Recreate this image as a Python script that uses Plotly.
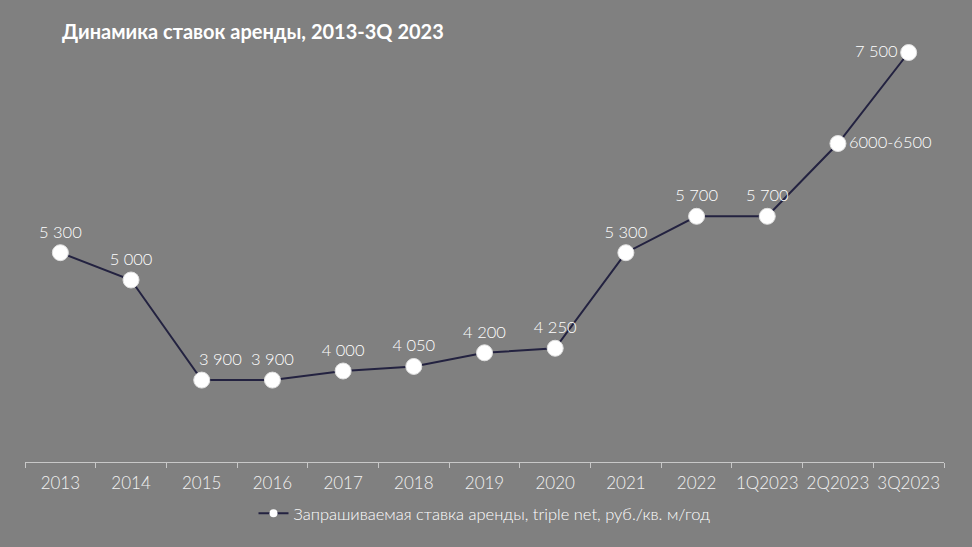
import plotly.graph_objects as go

# Data
periods = ["2013", "2014", "2015", "2016", "2017", "2018", "2019", "2020",
           "2021", "2022", "1Q2023", "2Q2023", "3Q2023"]
rates = [5300, 5000, 3900, 3900, 4000, 4050, 4200, 4250,
         5300, 5700, 5700, 6500, 7500]
labels = ["5 300", "5 000", "3 900", "3 900", "4 000", "4 050", "4 200", "4 250",
          "5 300", "5 700", "5 700", "6000-6500", "7 500"]
series_name = "Запрашиваемая ставка аренды, triple net, руб./кв. м/год"
title_text = "Динамика ставок аренды, 2013-3Q 2023"

BG = "#808080"
LINE = "#232240"
FONT = "Lato, 'Open Sans', sans-serif"
LABEL_FONT = dict(family=FONT, size=16.5, color="white", weight=300)

positions = ["top center"] * len(periods)
positions[11] = "middle right"
positions[12] = "middle left"

# 2015 label sits a bit to the right of its point, so it goes in as an annotation
shifted = 2
point_text = [t if i != shifted else "" for i, t in enumerate(labels)]

fig = go.Figure()
fig.add_trace(go.Scatter(
    x=periods, y=rates,
    mode="lines+markers+text",
    name=series_name,
    showlegend=False,
    line=dict(color=LINE, width=2),
    marker=dict(size=16, color="white", line=dict(color="#e0e0e0", width=1)),
    text=point_text,
    textposition=positions,
    textfont=LABEL_FONT,
    cliponaxis=False,
    hoverinfo="skip",
))
# legend-only entry with a smaller marker, like the original legend key
fig.add_trace(go.Scatter(
    x=[None], y=[None],
    mode="lines+markers",
    name=series_name,
    line=dict(color=LINE, width=2),
    marker=dict(size=8, color="white"),
))
# category axis: annotation x given as the category index
fig.add_annotation(
    x=shifted, y=rates[shifted], text=labels[shifted],
    showarrow=False, xshift=19, yshift=21, font=LABEL_FONT,
)

fig.update_layout(
    width=972, height=547,
    paper_bgcolor=BG, plot_bgcolor=BG,
    margin=dict(l=25, r=28, t=7, b=85, autoexpand=False),
    font=dict(family=FONT, color="white"),
    title=dict(text="<b>" + title_text + "</b>", x=62 / 972, xanchor="left",
               y=1 - 32 / 547, yanchor="middle",
               font=dict(family=FONT, size=20, color="white")),
    showlegend=True,
    legend=dict(orientation="h", x=0.5, xanchor="center", y=-0.075, yanchor="top",
                font=dict(family=FONT, size=16.5, color="white", weight=300),
                itemwidth=30, bgcolor="rgba(0,0,0,0)"),
)

fig.update_xaxes(
    type="category", range=[-0.5, len(periods) - 0.5],
    showline=True, linecolor="#c8c8c8", linewidth=1,
    ticks="outside", tickson="boundaries", ticklen=5, tickcolor="#c8c8c8",
    showgrid=False, tickangle=0, ticklabelstandoff=6,
    tickfont=dict(family=FONT, size=17, color="#f2f2f2", weight=300),
)
fig.update_yaxes(range=[3000, 8000], visible=False, showgrid=False, zeroline=False)

# drop the default page margin so the gray fills the whole window
fig.write_html(
    "out.html",
    config={"displayModeBar": False},
    post_script="document.body.style.margin='0';document.body.style.background='#808080';",
)
